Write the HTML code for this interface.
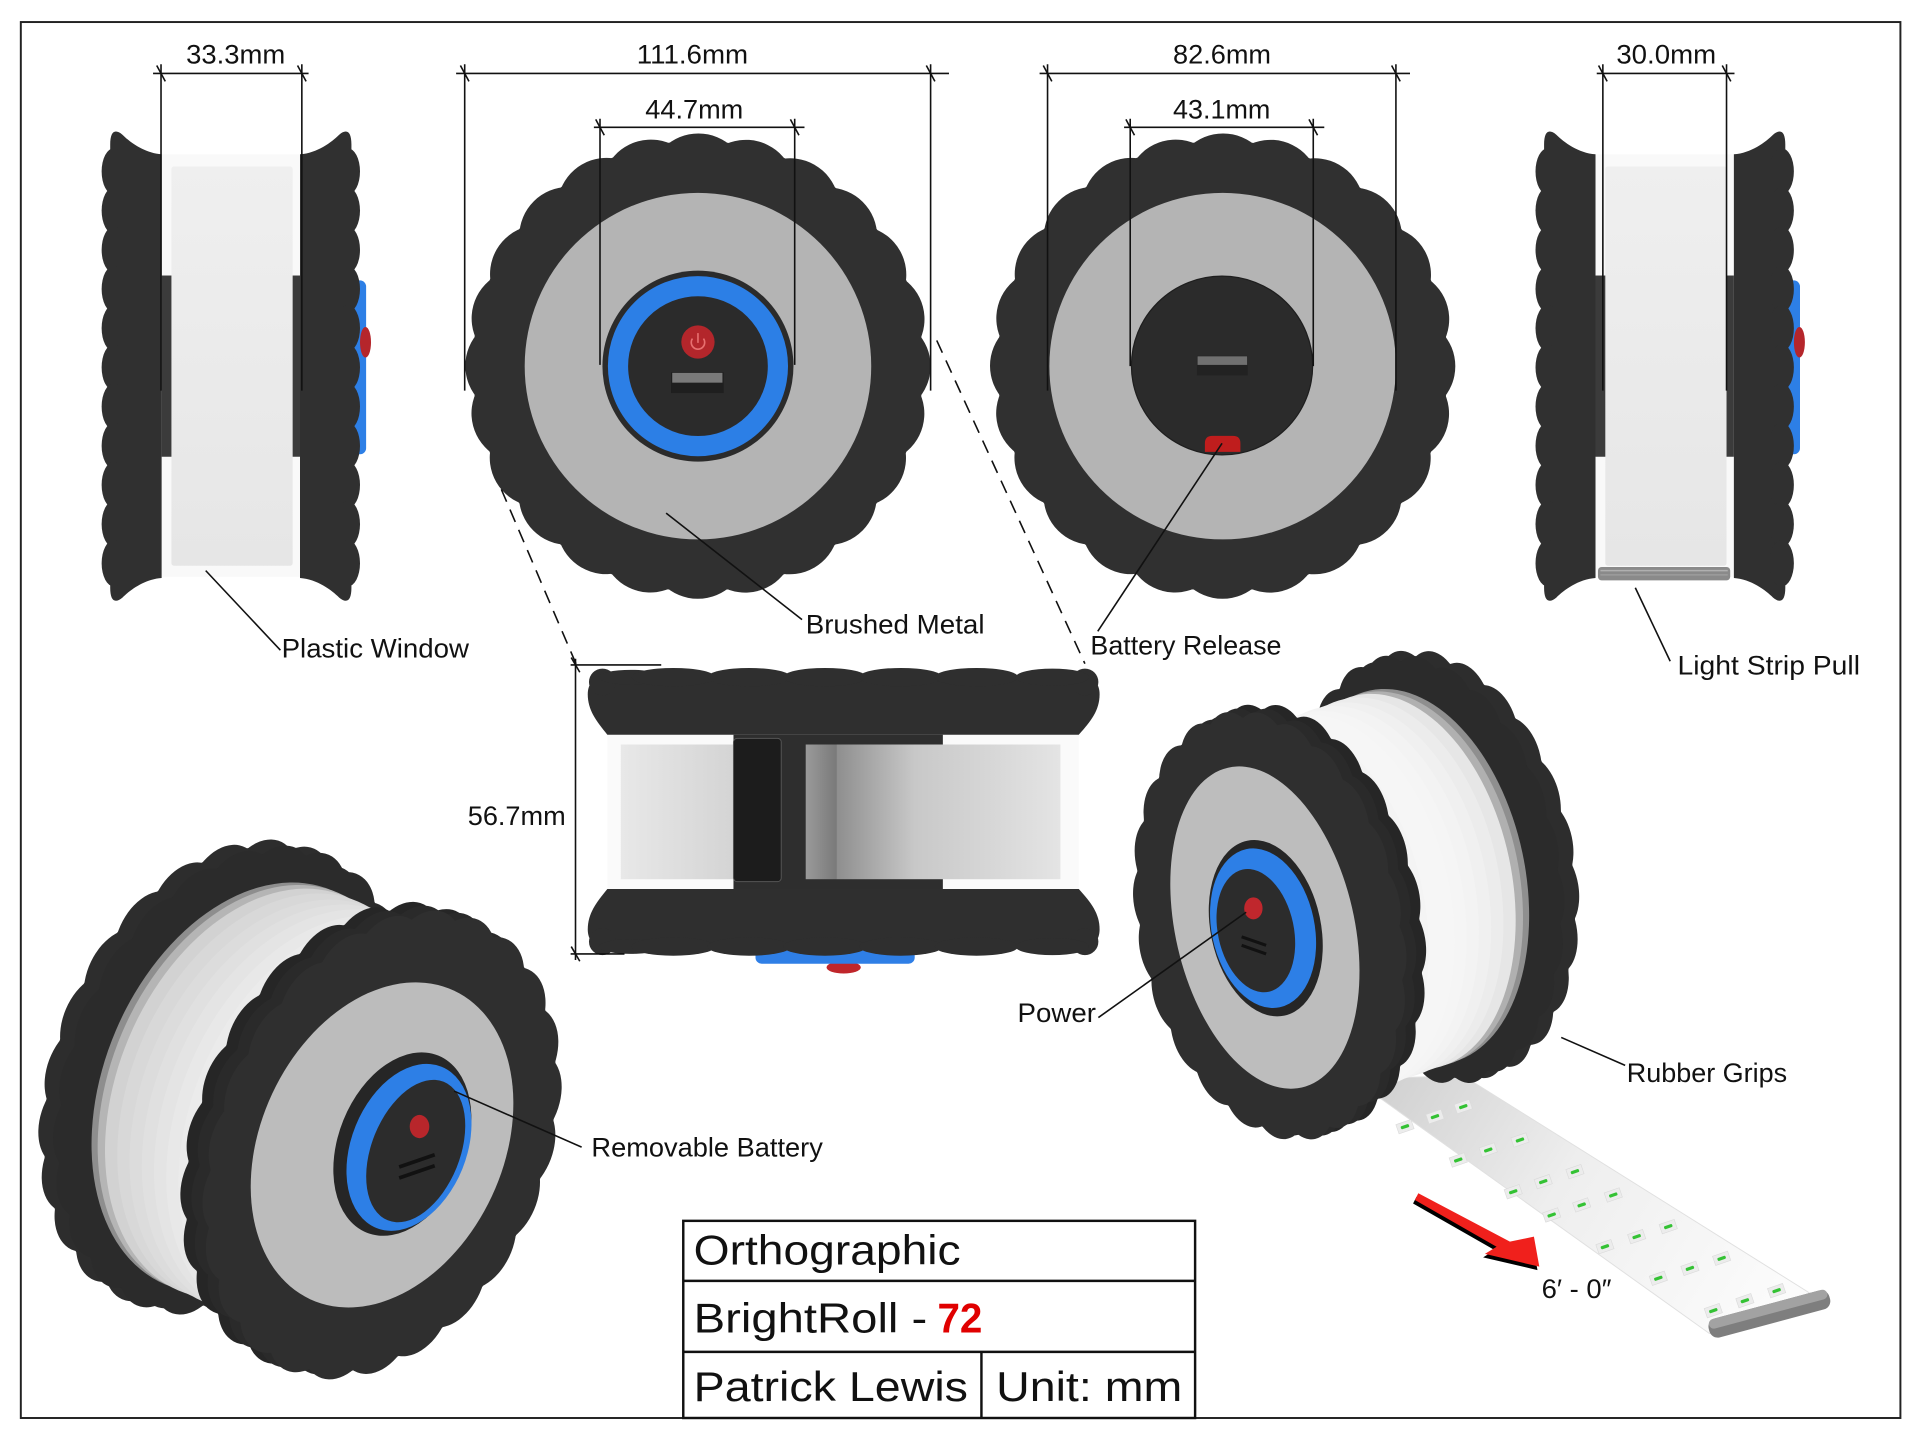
<!DOCTYPE html>
<html><head><meta charset="utf-8">
<style>
html,body{margin:0;padding:0;background:#fff;width:1920px;height:1442px;overflow:hidden}
svg{display:block}
text{font-family:"Liberation Sans",sans-serif;fill:#111}
</style></head>
<body>
<svg width="1920" height="1442" viewBox="0 0 1568 1177.6" preserveAspectRatio="none" xmlns="http://www.w3.org/2000/svg" xmlns:xlink="http://www.w3.org/1999/xlink">
<defs>
 <g id="wb">
  <circle r="184" fill="currentColor"/>
  <circle r="150" fill="none" stroke="currentColor" stroke-width="80" stroke-dasharray="0.1 39.17" stroke-linecap="round"/>
 </g>
 <circle id="bd" r="166" fill="currentColor"/>
 <linearGradient id="gPanel" x1="0" y1="0" x2="0" y2="1">
  <stop offset="0" stop-color="#efefef"/><stop offset="1" stop-color="#e6e6e6"/>
 </linearGradient>
 <linearGradient id="gLp" x1="0" y1="0" x2="1" y2="0">
  <stop offset="0" stop-color="#e8e8e8"/><stop offset="1" stop-color="#d4d4d4"/>
 </linearGradient>
 <linearGradient id="gRp" x1="0" y1="0" x2="1" y2="0">
  <stop offset="0" stop-color="#8e8e8e"/><stop offset="0.35" stop-color="#c8c8c8"/><stop offset="1" stop-color="#e4e4e4"/>
 </linearGradient>
 <linearGradient id="gGs" x1="0" y1="0" x2="1" y2="0">
  <stop offset="0" stop-color="#9a9a9a"/><stop offset="1" stop-color="#7a7a7a"/>
 </linearGradient>
 <linearGradient id="gStrip" gradientUnits="userSpaceOnUse" x1="1140" y1="880" x2="1440" y2="1070">
  <stop offset="0" stop-color="#d2d2d2"/><stop offset="0.45" stop-color="#eeeeee"/><stop offset="1" stop-color="#fbfbfb"/>
 </linearGradient>
 <g id="sv">
  <rect x="132" y="126" width="113" height="345" fill="#f9f9f9"/>
  <rect x="132" y="225" width="113" height="148" fill="#3b3b3b"/>
  <rect x="140" y="136" width="99" height="326" rx="2" fill="url(#gPanel)"/>
  <rect x="289" y="229" width="10" height="142" rx="5" fill="#2d7fe6"/>
  <ellipse cx="298.5" cy="279.5" rx="4.5" ry="12.5" fill="#b5262b"/>
  <g fill="#303030">
   <path d="M132,126 C118,125 106,116 100,110 C94,105 90,107 90,118 L90,480 C90,491 94,493 100,488 C106,482 118,473 132,472 Z"/>
   <ellipse cx="93" cy="140" rx="10" ry="19"/><ellipse cx="93" cy="172" rx="10" ry="19"/><ellipse cx="93" cy="204" rx="10" ry="19"/><ellipse cx="93" cy="236" rx="10" ry="19"/><ellipse cx="93" cy="268" rx="10" ry="19"/><ellipse cx="93" cy="300" rx="10" ry="19"/><ellipse cx="93" cy="332" rx="10" ry="19"/><ellipse cx="93" cy="364" rx="10" ry="19"/><ellipse cx="93" cy="396" rx="10" ry="19"/><ellipse cx="93" cy="428" rx="10" ry="19"/><ellipse cx="93" cy="460" rx="10" ry="19"/>
   <path d="M245,126 C259,125 271,116 277,110 C283,105 287,107 287,118 L287,480 C287,491 283,493 277,488 C271,482 259,473 245,472 Z"/>
   <ellipse cx="284" cy="140" rx="10" ry="19"/><ellipse cx="284" cy="172" rx="10" ry="19"/><ellipse cx="284" cy="204" rx="10" ry="19"/><ellipse cx="284" cy="236" rx="10" ry="19"/><ellipse cx="284" cy="268" rx="10" ry="19"/><ellipse cx="284" cy="300" rx="10" ry="19"/><ellipse cx="284" cy="332" rx="10" ry="19"/><ellipse cx="284" cy="364" rx="10" ry="19"/><ellipse cx="284" cy="396" rx="10" ry="19"/><ellipse cx="284" cy="428" rx="10" ry="19"/><ellipse cx="284" cy="460" rx="10" ry="19"/>
  </g>
 </g>
 <g id="tb" fill="#2f2f2f">
  <path d="M496,600 C487,589 480,580 480,567 C480,558 485,553 494,553 L884,553 C893,553 898,558 898,567 C898,580 891,589 881,600 Z"/>
  <circle cx="492" cy="557" r="11"/><circle cx="886" cy="557" r="11"/>
  <ellipse cx="515" cy="553" rx="26" ry="6"/>
  <ellipse cx="549.9" cy="553" rx="34" ry="7.5"/><ellipse cx="611.8" cy="553" rx="34" ry="7.5"/><ellipse cx="673.7" cy="553" rx="34" ry="7.5"/><ellipse cx="735.6" cy="553" rx="34" ry="7.5"/><ellipse cx="797.5" cy="553" rx="34" ry="7.5"/><ellipse cx="859.4" cy="553" rx="30" ry="7"/>
 </g>
 <g id="led"><rect x="-6.5" y="-4" width="13" height="8" fill="#ececec" stroke="#dadada" stroke-width="0.5"/><rect x="-3.5" y="-1.3" width="7" height="2.6" rx="1" fill="#34c234"/></g>
</defs>

<rect x="0" y="0" width="1568" height="1177.6" fill="#fff"/>
<rect x="17" y="18" width="1535" height="1140" fill="none" stroke="#222" stroke-width="1.6"/>

<!-- Side views -->
<use xlink:href="#sv"/>
<use xlink:href="#sv" transform="translate(1171,0)"/>
<rect x="1305" y="463" width="108" height="11" rx="3" fill="#8a8a8a"/>
<line x1="1307" y1="466" x2="1411" y2="466" stroke="#b0b0b0" stroke-width="1.2"/>
<line x1="1307" y1="469.5" x2="1411" y2="469.5" stroke="#a0a0a0" stroke-width="1"/>

<!-- Front view -->
<use xlink:href="#wb" color="#303030" transform="translate(570,299)"/>
<circle cx="570" cy="299" r="141.5" fill="#b4b4b4"/>
<circle cx="570" cy="299" r="78" fill="#2b2b2b"/>
<circle cx="570" cy="299" r="65.3" fill="none" stroke="#2c7fe6" stroke-width="16.5"/>
<circle cx="570" cy="279.3" r="13.6" fill="#b3262b"/>
<path d="M565.5,276.5 A5.5,5.5 0 1 0 574.5,276.5" fill="none" stroke="#e87070" stroke-width="1.3"/>
<line x1="570" y1="272" x2="570" y2="280" stroke="#e87070" stroke-width="1.3"/>
<rect x="548" y="304" width="43" height="17" fill="#1f1f1f"/>
<rect x="549" y="304.5" width="41" height="8" fill="#7a7a7a"/>

<!-- Back view -->
<use xlink:href="#wb" color="#303030" transform="translate(998.5,299)"/>
<circle cx="998.5" cy="299" r="141.5" fill="#b4b4b4"/>
<ellipse cx="998" cy="298.5" rx="74" ry="73" fill="#2b2b2b" stroke="#1e1e1e" stroke-width="1"/>
<rect x="977.5" y="290.6" width="41.5" height="16" fill="#222"/>
<rect x="978" y="291" width="40.5" height="7" fill="#707070"/>
<path d="M984,369 L984,362 Q984,356 990,356 L1007,356 Q1013,356 1013,362 L1013,369 Z" fill="#bf1d1d"/>

<!-- Top view -->
<rect x="496" y="600" width="385" height="126" fill="#fafafa"/>
<rect x="599" y="600" width="171" height="126" fill="#2e2e2e"/>
<rect x="507" y="608" width="92" height="110" fill="url(#gLp)"/>
<rect x="658" y="608" width="25" height="110" fill="url(#gGs)"/>
<rect x="683" y="608" width="183" height="110" fill="url(#gRp)"/>
<rect x="599" y="603" width="39" height="117" rx="3" fill="#1c1c1c" stroke="#555" stroke-width="0.8"/>
<ellipse cx="689" cy="790" rx="14" ry="5" fill="#c0262b"/>
<rect x="617" y="775" width="130" height="12" rx="5" fill="#2f7fe6"/>
<use xlink:href="#tb"/>
<use xlink:href="#tb" transform="translate(0,1326) scale(1,-1)"/>

<!-- Bottom-left perspective -->
<g>
<use xlink:href="#wb" color="#2d2d2d" transform="translate(178,877) rotate(23) scale(0.7105,1.0526)"/>
<use xlink:href="#wb" color="#2b2b2b" transform="translate(190,882) rotate(23) scale(0.7105,1.0526)"/>
<use xlink:href="#bd" color="#8e8e8e" transform="translate(203,888) rotate(23) scale(0.7105,1.0526)"/>
<use xlink:href="#bd" color="#b5b5b5" transform="translate(208,890) rotate(23) scale(0.7105,1.0526)"/>
<use xlink:href="#bd" color="#d2d2d2" transform="translate(214,893) rotate(23) scale(0.7105,1.0526)"/>
<use xlink:href="#bd" color="#d8d8d8" transform="translate(224,897) rotate(23) scale(0.7105,1.0526)"/>
<use xlink:href="#bd" color="#dcdcdc" transform="translate(234,902) rotate(23) scale(0.7105,1.0526)"/>
<use xlink:href="#bd" color="#e0e0e0" transform="translate(244,906) rotate(23) scale(0.7105,1.0526)"/>
<use xlink:href="#bd" color="#e4e4e4" transform="translate(254,910) rotate(23) scale(0.7105,1.0526)"/>
<use xlink:href="#bd" color="#e8e8e8" transform="translate(264,915) rotate(23) scale(0.7105,1.0526)"/>
<use xlink:href="#bd" color="#ebebeb" transform="translate(274,919) rotate(23) scale(0.7105,1.0526)"/>
<use xlink:href="#bd" color="#eeeeee" transform="translate(283,923) rotate(23) scale(0.7105,1.0526)"/>
<use xlink:href="#wb" color="#262626" transform="translate(294,928) rotate(23) scale(0.7105,1.0526)"/>
<use xlink:href="#wb" color="#2a2a2a" transform="translate(303,931) rotate(23) scale(0.7105,1.0526)"/>
<use xlink:href="#wb" color="#2f2f2f" transform="translate(312,935) rotate(23) scale(0.7105,1.0526)"/>
<ellipse cx="312" cy="935" rx="99" ry="139" transform="rotate(25 312 935)" fill="#bcbcbc"/>
<ellipse cx="328.6" cy="934.3" rx="52" ry="78" transform="rotate(22 328.6 934.3)" fill="#262626"/>
<ellipse cx="334" cy="937" rx="47" ry="71" transform="rotate(22 334 937)" fill="#2d7fe6"/>
<ellipse cx="339.5" cy="940" rx="36" ry="61" transform="rotate(22 339.5 940)" fill="#2c2c2c"/>
<ellipse cx="342.6" cy="920" rx="8" ry="9.5" fill="#b8262b"/>
<line x1="326" y1="953" x2="355" y2="943" stroke="#111" stroke-width="3"/>
<line x1="326" y1="962" x2="355" y2="952" stroke="#111" stroke-width="3"/>
</g>

<!-- Bottom-right perspective: strip first -->
<polygon points="1105,881 1195,878.6 1478,1056 1396,1089" fill="url(#gStrip)" stroke="#e0e0e0" stroke-width="0.8"/>
<g>
<use xlink:href="#led" transform="translate(1195,903.7) rotate(-19)"/><use xlink:href="#led" transform="translate(1171.9,911.9) rotate(-19)"/><use xlink:href="#led" transform="translate(1147.4,920.1) rotate(-19)"/>
<use xlink:href="#led" transform="translate(1241.3,931) rotate(-19)"/><use xlink:href="#led" transform="translate(1215.4,939.1) rotate(-19)"/><use xlink:href="#led" transform="translate(1190.9,947.3) rotate(-19)"/>
<use xlink:href="#led" transform="translate(1286.2,956.8) rotate(-19)"/><use xlink:href="#led" transform="translate(1260.3,965) rotate(-19)"/><use xlink:href="#led" transform="translate(1235.8,973.2) rotate(-19)"/>
<use xlink:href="#led" transform="translate(1317.5,975.9) rotate(-19)"/><use xlink:href="#led" transform="translate(1291.7,984) rotate(-19)"/><use xlink:href="#led" transform="translate(1267.2,992.2) rotate(-19)"/>
<use xlink:href="#led" transform="translate(1362.4,1001.7) rotate(-19)"/><use xlink:href="#led" transform="translate(1336.6,1009.9) rotate(-19)"/><use xlink:href="#led" transform="translate(1310.7,1018.1) rotate(-19)"/>
<use xlink:href="#led" transform="translate(1406,1027.6) rotate(-19)"/><use xlink:href="#led" transform="translate(1380.1,1035.8) rotate(-19)"/><use xlink:href="#led" transform="translate(1354.3,1043.9) rotate(-19)"/>
<use xlink:href="#led" transform="translate(1450.9,1054) rotate(-19)"/><use xlink:href="#led" transform="translate(1425,1062.2) rotate(-19)"/><use xlink:href="#led" transform="translate(1399.2,1070.3) rotate(-19)"/>
</g>
<g transform="translate(1445,1073) rotate(-15)">
 <rect x="-51" y="-8" width="102" height="16" rx="7" fill="#7e7e7e"/>
 <rect x="-50" y="-8" width="100" height="8" rx="4" fill="#a2a2a2"/>
</g>

<g>
<use xlink:href="#wb" color="#2d2d2d" transform="translate(1178,706) rotate(-12) scale(0.5684,0.9368)"/>
<use xlink:href="#wb" color="#2b2b2b" transform="translate(1166,710) rotate(-12) scale(0.5684,0.9368)"/>
<use xlink:href="#bd" color="#8f8f8f" transform="translate(1151,716) rotate(-12) scale(0.5684,0.9368)"/>
<use xlink:href="#bd" color="#b0b0b0" transform="translate(1146,718) rotate(-12) scale(0.5684,0.9368)"/>
<use xlink:href="#bd" color="#e6e6e6" transform="translate(1140,720) rotate(-12) scale(0.5684,0.9368)"/>
<use xlink:href="#bd" color="#ececec" transform="translate(1130,723) rotate(-12) scale(0.5684,0.9368)"/>
<use xlink:href="#bd" color="#f0f0f0" transform="translate(1120,727) rotate(-12) scale(0.5684,0.9368)"/>
<use xlink:href="#bd" color="#f3f3f3" transform="translate(1110,730) rotate(-12) scale(0.5684,0.9368)"/>
<use xlink:href="#bd" color="#f5f5f5" transform="translate(1100,734) rotate(-12) scale(0.5684,0.9368)"/>
<use xlink:href="#bd" color="#f6f6f6" transform="translate(1090,737) rotate(-12) scale(0.5684,0.9368)"/>
<use xlink:href="#bd" color="#f6f6f6" transform="translate(1080,741) rotate(-12) scale(0.5684,0.9368)"/>
<use xlink:href="#bd" color="#f4f4f4" transform="translate(1069,744) rotate(-12) scale(0.5684,0.9368)"/>
<use xlink:href="#bd" color="#f2f2f2" transform="translate(1059,748) rotate(-12) scale(0.5684,0.9368)"/>
<use xlink:href="#wb" color="#262626" transform="translate(1053,750) rotate(-12) scale(0.5684,0.9368)"/>
<use xlink:href="#wb" color="#2a2a2a" transform="translate(1045,753) rotate(-12) scale(0.5684,0.9368)"/>
<use xlink:href="#wb" color="#2f2f2f" transform="translate(1037,756) rotate(-12) scale(0.5684,0.9368)"/>
<ellipse cx="1033" cy="757.5" rx="73" ry="134" transform="rotate(-13 1033 757.5)" fill="#bdbdbd"/>
<ellipse cx="1033.7" cy="758" rx="45" ry="73" transform="rotate(-12 1033.7 758)" fill="#262626"/>
<ellipse cx="1031.5" cy="758" rx="42" ry="66" transform="rotate(-12 1031.5 758)" fill="#2d7fe6"/>
<ellipse cx="1025.6" cy="760" rx="31" ry="51" transform="rotate(-12 1025.6 760)" fill="#2c2c2c"/>
<ellipse cx="1023.6" cy="741.8" rx="7.5" ry="9" fill="#c0272d"/>
<line x1="1014" y1="765" x2="1034" y2="772" stroke="#111" stroke-width="2.5"/>
<line x1="1014" y1="772" x2="1034" y2="779" stroke="#111" stroke-width="2.5"/>
</g>

<!-- Red arrow -->
<polygon transform="translate(-1.5,2.8)" points="1158.3,974.5 1233.1,1014 1252.7,1009.9 1257.1,1034.4 1212.7,1024 1222.2,1018.1 1155.5,980" fill="#000"/>
<polygon points="1158.3,974.5 1233.1,1014 1252.7,1009.9 1257.1,1034.4 1212.7,1024 1222.2,1018.1 1155.5,980" fill="#f0201c"/>

<!-- Dimension lines -->
<g stroke="#111" stroke-width="1.3" fill="none">
 <line x1="125" y1="60" x2="252" y2="60"/>
 <line x1="131.5" y1="52.5" x2="131.5" y2="319"/><line x1="246.5" y1="52.5" x2="246.5" y2="319"/>
 <line x1="372.5" y1="60" x2="775" y2="60"/>
 <line x1="379.5" y1="52.5" x2="379.5" y2="319"/><line x1="760" y1="52.5" x2="760" y2="319"/>
 <line x1="485" y1="104" x2="657" y2="104"/>
 <line x1="490" y1="97" x2="490" y2="298"/><line x1="649" y1="97" x2="649" y2="298"/>
 <line x1="849" y1="60" x2="1151.5" y2="60"/>
 <line x1="855.5" y1="52.5" x2="855.5" y2="319"/><line x1="1140" y1="52.5" x2="1140" y2="319"/>
 <line x1="918" y1="104" x2="1081.5" y2="104"/>
 <line x1="923" y1="97" x2="923" y2="299"/><line x1="1072.5" y1="97" x2="1072.5" y2="299"/>
 <line x1="1304" y1="60" x2="1416.5" y2="60"/>
 <line x1="1309" y1="52.5" x2="1309" y2="319"/><line x1="1410" y1="52.5" x2="1410" y2="319"/>
 <line x1="470" y1="538" x2="470" y2="784"/>
 <line x1="466" y1="543" x2="540" y2="543"/><line x1="466" y1="779" x2="510" y2="779"/>
 <path d="M128,53.5 L135,66.5 M243,53.5 L250,66.5 M376,53.5 L383,66.5 M756.5,53.5 L763.5,66.5 M486.5,97.5 L493.5,110.5 M645.5,97.5 L652.5,110.5 M852,53.5 L859,66.5 M1136.5,53.5 L1143.5,66.5 M919.5,97.5 L926.5,110.5 M1069,97.5 L1076,110.5 M1305.5,53.5 L1312.5,66.5 M1406.5,53.5 L1413.5,66.5 M466.5,537 L473.5,549 M466.5,773 L473.5,785"/>
</g>
<g stroke="#111" stroke-width="1.3" stroke-dasharray="11 7" fill="none">
 <line x1="409.4" y1="399.6" x2="470.8" y2="543"/>
 <line x1="765" y1="278" x2="886" y2="542"/>
</g>
<!-- Leader lines -->
<g stroke="#111" stroke-width="1.3" fill="none">
 <line x1="168" y1="466" x2="229" y2="531"/>
 <line x1="544" y1="419" x2="655" y2="506"/>
 <line x1="998" y1="362" x2="896.5" y2="515.6"/>
 <line x1="1335.5" y1="480" x2="1364" y2="540"/>
 <line x1="370.8" y1="891" x2="475" y2="936.8"/>
 <line x1="897" y1="831" x2="1017.7" y2="745"/>
 <line x1="1275" y1="847.2" x2="1327.2" y2="870"/>
</g>

<!-- Dimension text -->
<g font-size="22">
 <text x="152" y="51.7" textLength="81" lengthAdjust="spacingAndGlyphs">33.3mm</text>
 <text x="520" y="51.7" textLength="91" lengthAdjust="spacingAndGlyphs">111.6mm</text>
 <text x="527" y="96.7" textLength="80" lengthAdjust="spacingAndGlyphs">44.7mm</text>
 <text x="958" y="51.7" textLength="80" lengthAdjust="spacingAndGlyphs">82.6mm</text>
 <text x="958" y="96.7" textLength="79.5" lengthAdjust="spacingAndGlyphs">43.1mm</text>
 <text x="1320" y="51.7" textLength="81.5" lengthAdjust="spacingAndGlyphs">30.0mm</text>
 <text x="382" y="673.7" textLength="80" lengthAdjust="spacingAndGlyphs">56.7mm</text>
</g>
<!-- Labels -->
<g font-size="22">
 <text x="230" y="537" textLength="153" lengthAdjust="spacingAndGlyphs">Plastic Window</text>
 <text x="658" y="517.4" textLength="146" lengthAdjust="spacingAndGlyphs">Brushed Metal</text>
 <text x="890.5" y="534.3" textLength="156" lengthAdjust="spacingAndGlyphs">Battery Release</text>
 <text x="1370" y="551" textLength="149" lengthAdjust="spacingAndGlyphs">Light Strip Pull</text>
 <text x="483" y="944.3" textLength="189" lengthAdjust="spacingAndGlyphs">Removable Battery</text>
 <text x="831" y="834.7" textLength="64" lengthAdjust="spacingAndGlyphs">Power</text>
 <text x="1328.5" y="883.5" textLength="131" lengthAdjust="spacingAndGlyphs">Rubber Grips</text>
 <text x="1259" y="1060" textLength="57" lengthAdjust="spacingAndGlyphs">6′ - 0″</text>
</g>

<!-- Title block -->
<g stroke="#111" stroke-width="2" fill="none">
 <rect x="558" y="997" width="418" height="161"/>
 <line x1="558" y1="1046" x2="976" y2="1046"/>
 <line x1="558" y1="1104" x2="976" y2="1104"/>
 <line x1="801.5" y1="1104" x2="801.5" y2="1158"/>
</g>
<g font-size="34">
 <text x="566.5" y="1032.6" textLength="218" lengthAdjust="spacingAndGlyphs">Orthographic</text>
 <text x="566.5" y="1088" textLength="190.8" lengthAdjust="spacingAndGlyphs">BrightRoll -</text>
 <text x="765.6" y="1088" textLength="36.7" lengthAdjust="spacingAndGlyphs" font-weight="bold" style="fill:#e00000">72</text>
 <text x="566.5" y="1144.3" textLength="224" lengthAdjust="spacingAndGlyphs">Patrick Lewis</text>
 <text x="813.5" y="1144.3" textLength="152" lengthAdjust="spacingAndGlyphs">Unit: mm</text>
</g>
</svg>
</body></html>
